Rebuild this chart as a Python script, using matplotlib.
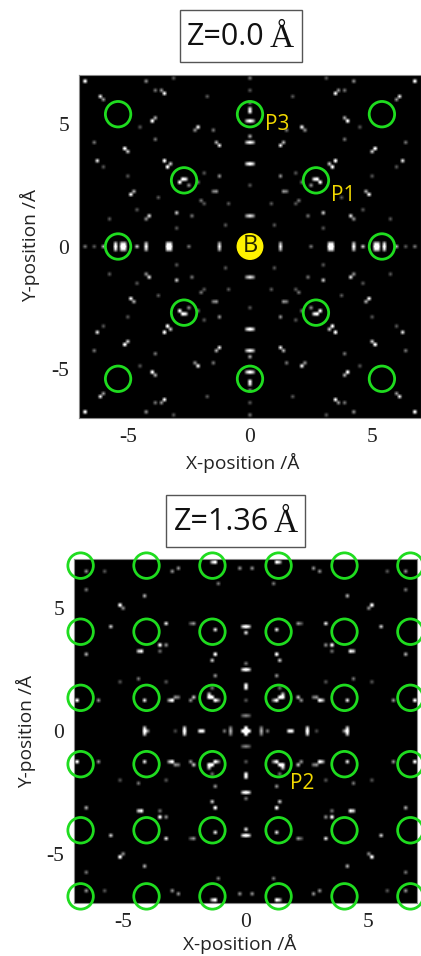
import numpy as np
import matplotlib
matplotlib.use("Agg")
import matplotlib.pyplot as plt
from matplotlib.patches import Circle, Rectangle

W, H = 421, 956
SANS = "Open Sans"
SERIF = "Liberation Serif"
GREEN = "#1fdc1f"
GOLD = "#f2d900"
CELL = 0.125

# spots of the upper right quadrant, mirrored into the other three (angstrom, brightness)
top_x = [6.80, 6.70, 6.15, 6.05, 4.23, 3.52, 3.60, 3.93, 3.11, 4.03, 3.93, 2.14, 2.24, 1.53, 1.30, 1.40, 1.78,
         5.16, 5.06, 6.35, 6.28, 3.83, 4.45, 3.48, 3.35, 3.25, 2.73, 2.83, 2.58, 2.45, 4.85, 4.75, 4.17, 4.27,
         2.94, 2.39, 2.14, 1.30, 1.37, 1.46, 4.57, 5.80, 3.0, 0.95, 0.85, 1.85, 3.8, 5.0, 6.0, 2.0, 1.9]
top_y = [6.80, 6.70, 6.12, 6.02, 6.80, 6.28, 6.38, 6.37, 6.91, 5.14, 5.24, 4.82, 4.72, 4.73, 4.14, 4.24, 6.15,
         4.00, 3.90, 4.20, 3.50, 4.34, 4.90, 3.50, 3.29, 3.40, 2.70, 2.60, 2.80, 2.55, 2.09, 2.19, 1.27, 1.17,
         1.37, 1.27, 2.60, 2.91, 2.25, 2.25, 1.50, 1.10, 0.75, 0.85, 1.80, 3.0, 1.95, 2.9, 3.3, 1.9, 1.7]
top_v = [1.0, 0.7, 0.8, 0.5, 0.5, 0.9, 0.5, 0.4, 0.3, 1.0, 0.6, 0.9, 0.5, 0.4, 0.8, 0.6, 0.3,
         1.0, 0.7, 0.4, 0.8, 0.4, 0.3, 1.0, 1.0, 0.7, 1.0, 1.0, 0.8, 0.5, 0.9, 0.6, 0.8, 0.5,
         0.7, 0.4, 0.4, 0.5, 0.5, 0.4, 0.3, 0.3, 0.3, 0.3, 0.3, 0.3, 0.3, 0.3, 0.3, 0.4, 0.3]

# spots on the axes: wide ones get a neighbour cell across the axis, narrow ones do not
top_axis_x = [1.23, 3.30, 3.42, 4.26, 5.10, 5.22, 5.53]
top_axis_xv = [0.8, 1.0, 1.0, 0.9, 1.0, 1.0, 1.0]
top_axis_y = [3.32, 4.21, 5.10, 1.20]
top_axis_yv = [1.0, 0.9, 1.0, 0.8]
top_narrow_x = [2.53, 4.58, 6.00, 6.42, 6.76]
top_narrow_xv = [0.4, 0.7, 0.6, 0.3, 0.4]
top_narrow_y = [2.47, 4.55, 5.50, 5.62, 5.90, 6.42, 6.83]
top_narrow_yv = [0.3, 0.6, 0.9, 0.8, 0.5, 0.3, 0.4]

bot_x = [1.22, 1.32, 0.20, 1.16, 2.79, 3.06, 6.53, 5.78, 6.50, 4.15, 5.10, 5.00, 3.27, 2.11, 2.21, 1.29,
         5.44, 3.47, 3.30, 4.29, 4.39, 3.55, 6.53, 1.22, 1.36, 1.29, 1.36, 1.46, 1.26, 1.56, 1.10, 2.18, 2.28,
         3.06, 3.16, 2.83, 4.08, 6.84, 5.99, 3.27, 4.35, 5.09, 1.36, 2.70]
bot_y = [6.88, 6.88, 6.67, 5.99, 6.57, 6.53, 6.53, 6.53, 5.80, 5.48, 5.12, 5.02, 4.33, 4.39, 4.39, 4.10,
         4.19, 3.51, 3.55, 3.28, 3.28, 3.28, 3.17, 3.10, 2.87, 2.20, 1.36, 1.36, 1.26, 1.50, 1.30, 1.33, 1.20,
         1.24, 1.24, 1.36, 1.29, 1.24, 1.20, 2.00, 2.15, 2.00, 1.75, 1.36]
bot_v = [1.0, 0.7, 0.5, 0.4, 0.5, 0.5, 0.5, 0.3, 0.4, 0.6, 1.0, 0.5, 0.8, 0.5, 0.3, 0.8,
         0.7, 1.0, 0.5, 0.9, 0.7, 0.4, 0.6, 1.0, 0.7, 0.5, 1.0, 1.0, 1.0, 0.7, 0.5, 0.7, 0.5,
         1.0, 0.6, 0.5, 0.8, 1.0, 0.5, 0.3, 0.4, 0.3, 0.4, 0.4]

bot_axis_x = [0.61, 2.45, 4.08]
bot_axis_xv = [0.6, 1.0, 1.0]
bot_axis_y = [0.65, 2.45, 4.19]
bot_axis_yv = [0.45, 1.0, 1.0]
bot_narrow_x = [0.0, 0.12, 0.88, 1.78, 1.90, 2.86, 3.98]
bot_narrow_xv = [1.0, 1.0, 0.4, 0.9, 0.9, 0.25, 0.5]
bot_narrow_y = [0.12, 1.29, 1.80, 1.92, 2.69, 3.99]
bot_narrow_yv = [1.0, 0.3, 0.9, 0.9, 0.4, 0.8]

top_circles_x = [-5.4, 0, 5.4, -2.7, 2.7, -5.4, 5.4, -2.7, 2.7, -5.4, 0, 5.4]
top_circles_y = [5.4, 5.4, 5.4, 2.7, 2.7, 0, 0, -2.7, -2.7, -5.4, -5.4, -5.4]
bot_circle_pos = [-6.73, -4.04, -1.35, 1.35, 4.04, 6.73]
tick_vals = [-5, 0, 5]
tick_labels = ["-5", "0", "5"]


def build_image(qx, qy, qv, ax_x, ax_xv, ax_y, ax_yv, nar_x, nar_xv, nar_y, nar_yv):
    n = 113
    img = np.zeros((n, n))

    def put(x, y, v):
        i = int(round((y + 7) / CELL))
        j = int(round((x + 7) / CELL))
        if 0 <= i < n and 0 <= j < n:
            img[i, j] = max(img[i, j], v)

    for x, y, v in zip(qx, qy, qv):
        for sx in (1, -1):
            for sy in (1, -1):
                put(sx * x, sy * y, v)
    for x, v in zip(ax_x, ax_xv):
        for sx in (1, -1):
            put(sx * x, 0, v)
            put(sx * x, CELL, v * 0.7)
            put(sx * x, -CELL, v * 0.7)
    for y, v in zip(ax_y, ax_yv):
        for sy in (1, -1):
            put(0, sy * y, v)
            put(CELL, sy * y, v * 0.7)
            put(-CELL, sy * y, v * 0.7)
    for x, v in zip(nar_x, nar_xv):
        for sx in (1, -1):
            put(sx * x, 0, v)
    for y, v in zip(nar_y, nar_yv):
        for sy in (1, -1):
            put(0, sy * y, v)
    return img


def add_panel(fig, left, right, top, bottom, img):
    ax = fig.add_axes([left / W, 1 - bottom / H, (right - left) / W, (bottom - top) / H])
    e = 7 + CELL / 2
    ax.imshow(img, origin="lower", extent=[-e, e, -e, e], cmap="gray", vmin=0, vmax=0.8,
              interpolation="bilinear", aspect="auto")
    ax.set_xlim(-7, 7)
    ax.set_ylim(-7, 7)
    ax.set_xticks(tick_vals, tick_labels)
    ax.set_yticks(tick_vals, tick_labels)
    ax.tick_params(length=0, pad=7, labelsize=15.5, labelcolor="#222222")
    for lab in ax.get_xticklabels() + ax.get_yticklabels():
        lab.set_family(SERIF)
    for s in ax.spines.values():
        s.set_color("#888888")
        s.set_linewidth(0.8)
    return ax


def title_box(fig, x0, x1, y0, y1, label, ang_x, text_x):
    fig.add_artist(Rectangle((x0 / W, 1 - y1 / H), (x1 - x0) / W, (y1 - y0) / H, transform=fig.transFigure,
                             fc="white", ec="#555555", lw=1.0))
    yc = 1 - ((y0 + y1) / 2 + 1) / H
    fig.text(text_x / W, yc, label, family=SANS, fontsize=22, color="#111111", ha="left", va="center")
    fig.text(ang_x / W, yc - 2 / H, "Å", family=SERIF, fontsize=24, color="#111111", ha="left", va="center")


def labels(fig, xl_x, xl_y, yl_x, yl_y):
    fig.text(xl_x / W, 1 - xl_y / H, "X-position /Å", family=SANS, fontsize=13.8, color="#222222",
             ha="center", va="center")
    fig.text(yl_x / W, 1 - yl_y / H, "Y-position /Å", family=SANS, fontsize=13.8, color="#222222",
             ha="center", va="center", rotation=90)


fig = plt.figure(figsize=(W / 100, H / 100), dpi=100)

# Z = 0
img_top = build_image(top_x, top_y, top_v, top_axis_x, top_axis_xv, top_axis_y, top_axis_yv,
                      top_narrow_x, top_narrow_xv, top_narrow_y, top_narrow_yv)
ax1 = add_panel(fig, 79, 421, 75, 418, img_top)
for x, y in zip(top_circles_x, top_circles_y):
    ax1.add_patch(Circle((x, y), 0.52, fc="none", ec=GREEN, lw=2.0, clip_on=False, zorder=3))
ax1.add_patch(Circle((0, 0), 0.55, fc="#fff200", ec="none", zorder=3))
ax1.text(0, 0, "B", family=SANS, fontsize=17, color="#222200", ha="center", va="center", zorder=4)
ax1.text(0.6, 5.0, "P3", family=SANS, fontsize=15, color=GOLD, va="center")
ax1.text(3.3, 2.1, "P1", family=SANS, fontsize=15, color=GOLD, va="center")
title_box(fig, 180, 302, 10, 62, "Z=0.0", 270, 187)
labels(fig, 243, 463, 30, 246)

# Z = 1.36
img_bot = build_image(bot_x, bot_y, bot_v, bot_axis_x, bot_axis_xv, bot_axis_y, bot_axis_yv,
                      bot_narrow_x, bot_narrow_xv, bot_narrow_y, bot_narrow_yv)
ax2 = add_panel(fig, 74, 417, 559, 903, img_bot)
for y in bot_circle_pos:
    for x in bot_circle_pos:
        ax2.add_patch(Circle((x, y), 0.52, fc="none", ec=GREEN, lw=2.0, clip_on=False, zorder=3))
ax2.text(1.8, -2.13, "P2", family=SANS, fontsize=15, color=GOLD, va="center")
title_box(fig, 166, 305, 495, 547, "Z=1.36", 274, 174)
labels(fig, 240, 944, 26, 731)

fig.savefig("out.png", dpi=100)
